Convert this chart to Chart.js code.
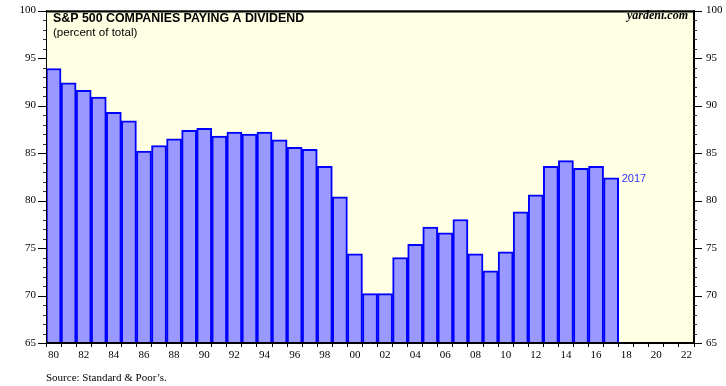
<!DOCTYPE html>
<html><head><meta charset="utf-8">
<script src="https://cdn.jsdelivr.net/npm/chart.js@4"></script>
<style>html,body{margin:0;padding:0;background:#fff}#wrap{width:726px;height:386px}</style>
</head><body><div id="wrap"><canvas id="c" width="726" height="386"></canvas></div>
<script>
const categories = [1980,1981,1982,1983,1984,1985,1986,1987,1988,1989,1990,1991,1992,1993,1994,1995,1996,1997,1998,1999,2000,2001,2002,2003,2004,2005,2006,2007,2008,2009,2010,2011,2012,2013,2014,2015,2016,2017,2018,2019,2020,2021,2022];
const payingDividend = [93.9,92.4,91.6,90.9,89.3,88.4,85.2,85.8,86.5,87.4,87.6,86.8,87.2,87.0,87.2,86.4,85.6,85.4,83.6,80.4,74.4,70.2,70.2,74.0,75.4,77.2,76.6,78.0,74.4,72.6,74.6,78.8,80.6,83.6,84.2,83.4,83.6,82.4];
const xTickLabels = ['80','82','84','86','88','90','92','94','96','98','00','02','04','06','08','10','12','14','16','18','20','22'];
const yTickLabels = [65,70,75,80,85,90,95,100];
const titleText = 'S&P 500 COMPANIES PAYING A DIVIDEND';
const subtitleText = '(percent of total)';
const brandText = 'yardeni.com';
const sourceText = 'Source: Standard & Poor\u2019s.';
const lastLabel = '2017';

const SERIF = '"Liberation Serif","Times New Roman",serif';
const SANS = '"Liberation Sans",Arial,sans-serif';

const decor = {
  id: 'decor',
  beforeDraw(chart) {
    const {ctx, chartArea: a} = chart;
    ctx.save();
    ctx.fillStyle = '#FFFFE3';
    ctx.fillRect(a.left, a.top, a.right - a.left, a.bottom - a.top);
    ctx.restore();
  },
  afterDraw(chart) {
    const {ctx, chartArea: a} = chart;
    ctx.save();
    ctx.strokeStyle = '#000';
    ctx.lineWidth = 1;
    ctx.strokeRect(a.left + 0.5, a.top + 0.5, a.right - a.left - 1, a.bottom - a.top - 1);
    ctx.lineWidth = 2;
    ctx.beginPath(); ctx.moveTo(a.left, a.top + 1); ctx.lineTo(a.right, a.top + 1); ctx.stroke();
    ['y', 'y2'].forEach(id => {
      const s = chart.scales[id];
      s.ticks.forEach(t => {
        const major = yTickLabels.includes(t.value);
        const py = Math.round(s.getPixelForValue(t.value)) + 0.5;
        const len = major ? 8 : 3;
        ctx.strokeStyle = major ? '#000' : '#333';
        ctx.lineWidth = 1;
        ctx.beginPath();
        if (id === 'y') { ctx.moveTo(a.left - len, py); ctx.lineTo(a.left, py); }
        else { ctx.moveTo(a.right, py); ctx.lineTo(a.right + len, py); }
        ctx.stroke();
      });
    });
    ctx.fillStyle = '#000';
    ctx.textBaseline = 'alphabetic';
    ctx.textAlign = 'left';
    ctx.font = 'bold 12.4px ' + SANS;
    ctx.fillText(titleText, a.left + 7, 22);
    ctx.font = '11.6px ' + SANS;
    ctx.fillText(subtitleText, a.left + 7, 36);
    ctx.textAlign = 'right';
    ctx.font = 'italic bold 12px ' + SERIF;
    ctx.fillText(brandText, a.right - 6, 19);
    ctx.textAlign = 'left';
    ctx.font = '11px ' + SERIF;
    ctx.fillText(sourceText, a.left, 381);
    const meta = chart.getDatasetMeta(0);
    const el = meta.data[payingDividend.length - 1];
    ctx.fillStyle = '#3333FF';
    ctx.font = '11px ' + SANS;
    ctx.textBaseline = 'middle';
    ctx.fillText(lastLabel, el.x + el.width / 2 + 3, el.y + 1);
    ctx.restore();
  }
};

const yTicks = {
  stepSize: 1,
  autoSkip: false,
  color: '#000',
  font: {family: SERIF, size: 11},
  callback: v => yTickLabels.includes(v) ? String(v) : ''
};

new Chart(document.getElementById('c'), {
  type: 'bar',
  data: {
    labels: categories,
    datasets: [{
      data: payingDividend,
      backgroundColor: '#9999FF',
      borderColor: '#0000FF',
      borderWidth: 2,
      barPercentage: 1,
      categoryPercentage: 1
    }]
  },
  options: {
    responsive: false,
    devicePixelRatio: 1,
    animation: false,
    layout: {padding: {top: 8, left: 0, right: 0, bottom: 0}},
    plugins: {legend: {display: false}, tooltip: {enabled: false}, title: {display: false}},
    scales: {
      x: {
        type: 'category',
        offset: true,
        grid: {offset: true, drawOnChartArea: false, drawTicks: true, tickLength: 4, color: '#000', tickColor: '#000'},
        border: {display: true, color: '#000'},
        ticks: {
          autoSkip: false, maxRotation: 0, minRotation: 0, padding: 2,
          color: '#000', font: {family: SERIF, size: 11},
          callback: (v, i) => (i % 2 === 0 ? xTickLabels[i / 2] : '')
        },
        afterFit: s => { s.height = 43; }
      },
      y: {
        position: 'left', min: 65, max: 100,
        grid: {drawOnChartArea: false, drawTicks: true, tickLength: 8, tickColor: 'rgba(0,0,0,0)'},
        border: {display: true, color: '#000'},
        ticks: Object.assign({padding: 2}, yTicks),
        afterFit: s => { s.width = 46; }
      },
      y2: {
        position: 'right', min: 65, max: 100,
        grid: {drawOnChartArea: false, drawTicks: true, tickLength: 8, tickColor: 'rgba(0,0,0,0)'},
        border: {display: true, color: '#000'},
        ticks: Object.assign({padding: 4}, yTicks),
        afterFit: s => { s.width = 32; }
      }
    }
  },
  plugins: [decor]
});
</script>
</body></html>
